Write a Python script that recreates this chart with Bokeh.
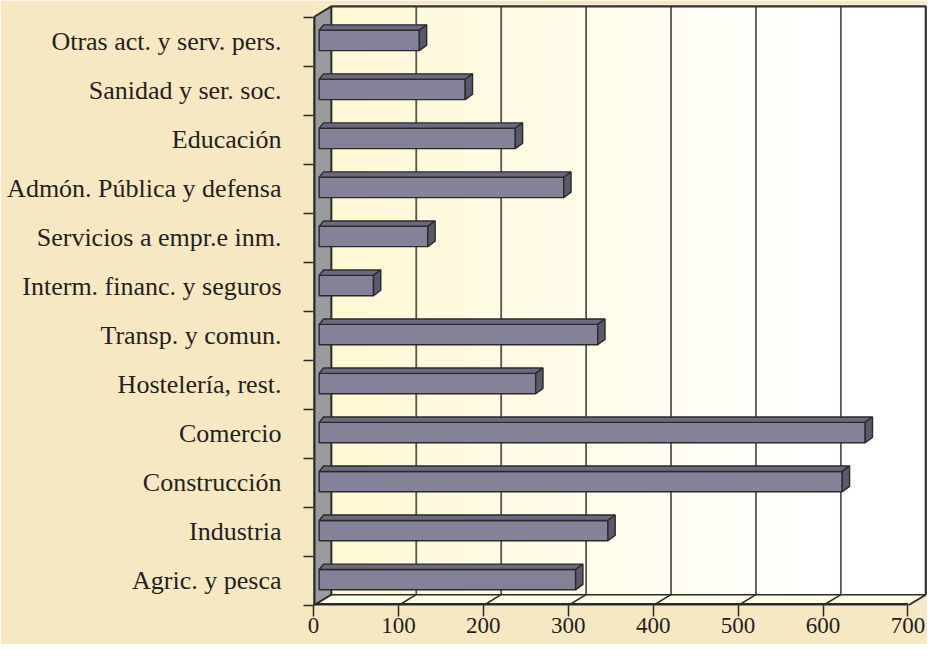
import numpy as np
from bokeh.plotting import figure
from bokeh.models import FixedTicker, Range1d
from bokeh.embed import file_html
from bokeh.resources import INLINE

# ---- data ----
categories = ["Agric. y pesca", "Industria", "Construcción", "Comercio",
              "Hostelería, rest.", "Transp. y comun.", "Interm. financ. y seguros",
              "Servicios a empr.e inm.", "Admón. Pública y defensa", "Educación",
              "Sanidad y ser. soc.", "Otras act. y serv. pers."]
values = [302, 340, 616, 643, 255, 328, 64, 128, 288, 231, 172, 118]
x_ticks = [0, 100, 200, 300, 400, 500, 600, 700]

# ---- style / geometry ----
BG = "#F7E8C4"
DARK = "#2A2A2A"
TXT = "#231F20"
XMAX = 700
DX = 21.0      # depth offset of back wall (value units)
DY = 0.22      # depth offset of back wall (category units)
N = len(categories)
YTOP = N

p = figure(width=927, height=644,
           x_range=Range1d(0, XMAX + DX + 2), y_range=Range1d(0, YTOP + DY + 0.04),
           output_backend="svg", toolbar_location=None,
           min_border_left=313, min_border_right=0, min_border_top=4, min_border_bottom=39)
p.background_fill_color = BG
p.border_fill_color = BG
p.outline_line_color = None
p.xgrid.visible = False
p.ygrid.visible = False

# back wall gradient (pale yellow -> white)
nstrip = 80
edges = np.linspace(DX, XMAX + DX, nstrip + 1)
cols = []
for k in range(nstrip):
    t = min(1.0, k / (nstrip * 0.82))
    r, g, b = 255, 248 + (255 - 248) * t, 212 + (255 - 212) * t
    cols.append("#%02x%02x%02x" % (int(r), int(round(g)), int(round(b))))
p.quad(left=edges[:-1], right=edges[1:] + 1.0, bottom=DY, top=YTOP + DY,
       fill_color=cols, line_color=None)

# back wall gridlines
inner = [t for t in x_ticks if 0 < t < XMAX]
p.segment(x0=[t + DX for t in inner], y0=DY, x1=[t + DX for t in inner], y1=YTOP + DY,
          line_color="#555555", line_width=1.8)

# floor
p.patch([0, XMAX, XMAX + DX, DX], [0, 0, DY, DY], fill_color="#FFFCE8", line_color=None)
p.segment(x0=inner, y0=0, x1=[t + DX for t in inner], y1=DY, line_color=DARK, line_width=1.5)
p.line([DX, XMAX + DX], [DY, DY], line_color=DARK, line_width=1.5)
p.line([XMAX, XMAX + DX], [0, DY], line_color=DARK, line_width=1.8)
p.line([0, XMAX], [0, 0], line_color=DARK, line_width=5)

# left wall
p.patch([0, 0, DX, DX], [0, YTOP, YTOP + DY, DY], fill_color="#9B9B9D",
        line_color=DARK, line_width=2)
p.line([0, 0], [0, YTOP], line_color=DARK, line_width=4)

# back wall outline (top & right)
p.line([DX, XMAX + DX, XMAX + DX], [YTOP + DY, YTOP + DY, DY], line_color="#333333", line_width=2.2)

# bars (3D)
X0 = 6.65       # front-face start
BD_X = 8.6      # bar depth in value units
BD_Y = 0.11     # bar depth in category units
centers = [i + 0.5 for i in range(N)]
bots = [c - 0.18 for c in centers]
tops = [c + 0.235 for c in centers]
rights = [X0 + v for v in values]
p.quad(left=X0, right=rights, bottom=bots, top=tops,
       fill_color="#858199", line_color=DARK, line_width=1.4)
top_xs = [[X0, r, r + BD_X, X0 + BD_X * 0.6] for r in rights]
top_ys = [[t, t, t + BD_Y, t + BD_Y] for t in tops]
p.patches(top_xs, top_ys, fill_color="#6C697F", line_color=DARK, line_width=1.4)
side_xs = [[r, r + BD_X, r + BD_X, r] for r in rights]
side_ys = [[b, b + BD_Y, t + BD_Y, t] for b, t in zip(bots, tops)]
p.patches(side_xs, side_ys, fill_color="#5A586B", line_color=DARK, line_width=1.4)

# x axis
xa = p.xaxis[0]
xa.ticker = FixedTicker(ticks=x_ticks, minor_ticks=[])
xa.axis_line_color = None
xa.major_tick_out = 11
xa.major_tick_in = 0
xa.major_tick_line_color = DARK
xa.major_tick_line_width = 1.5
xa.minor_tick_line_color = None
xa.major_label_text_font = "Liberation Serif"
xa.major_label_text_font_size = "23px"
xa.major_label_text_color = TXT
xa.major_label_standoff = 1

# y axis: labels at category centres, tick marks at boundaries
ya = p.yaxis[0]
ya.ticker = FixedTicker(ticks=centers, minor_ticks=list(range(N + 1)))
ya.major_label_overrides = {c: name for c, name in zip(centers, categories)}
ya.axis_line_color = None
ya.major_tick_line_color = None
ya.major_tick_out = 0
ya.major_tick_in = 0
ya.minor_tick_out = 10
ya.minor_tick_in = 0
ya.minor_tick_line_color = DARK
ya.minor_tick_line_width = 1.5
ya.major_label_text_font = "Liberation Serif"
ya.major_label_text_font_size = "26px"
ya.major_label_text_color = TXT
ya.major_label_standoff = 22

html = file_html(p, INLINE)
html = html.replace("<body>", "<body style=\"background-color:%s;\">" % BG, 1)
open("out.html", "w").write(html)
